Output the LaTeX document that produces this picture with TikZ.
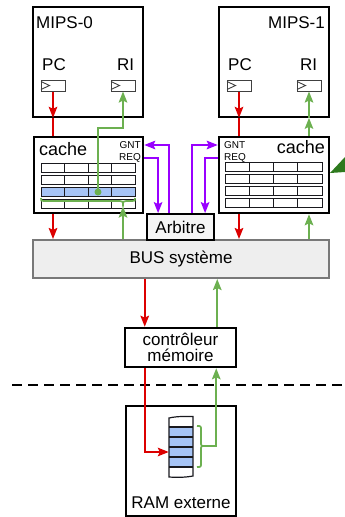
\documentclass[tikz,border=0pt]{standalone}
\usepackage{fontspec}
\setmainfont{Liberation Sans}
\usetikzlibrary{arrows.meta,calc}
\definecolor{redline}{RGB}{220,0,0}
\definecolor{greenline}{RGB}{108,176,80}
\definecolor{purpleline}{RGB}{153,0,255}
\definecolor{rowblue}{RGB}{166,196,245}
\definecolor{busgray}{RGB}{238,238,238}
\definecolor{busborder}{RGB}{120,120,120}
\definecolor{darkgreen}{RGB}{46,122,30}
\definecolor{cellline}{RGB}{25,25,30}

\begin{document}
\begin{tikzpicture}[x=1pt,y=-1pt,
  txt/.style={font=\fontsize{17}{19}\selectfont, inner sep=0pt},
  small/.style={font=\fontsize{10}{11}\selectfont, inner sep=0pt},
  box/.style={draw, inner sep=0pt, line width=#1},
  reg/.style={draw=black!75, line width=1pt, fill=white, minimum width=24pt, minimum height=11pt, inner sep=0pt},
  arr/.style={line width=2pt, -{Stealth[length=11pt,width=8.5pt,inset=2pt]}},
  wire/.style={line width=2pt},
  cell/.style={draw=cellline, line width=0.95pt}]

\useasboundingbox (0,0) rectangle (345,517);

% processors
\node[box=1.7pt, minimum width=110pt, minimum height=110pt] (mips0) at (88,62) {};
\node[box=1.7pt, minimum width=110pt, minimum height=110pt] (mips1) at (274,62) {};
\node[txt, anchor=base west] (lmips0) at (36,28) {MIPS-0};
\node[txt, anchor=base east] (lmips1) at (325,28) {MIPS-1};
\node[txt, anchor=base west] (lpc0) at (42,70) {PC};
\node[txt, anchor=base west] (lri0) at (117,70) {RI};
\node[txt, anchor=base west] (lpc1) at (228,70) {PC};
\node[txt, anchor=base west] (lri1) at (300,70) {RI};

% registers with clock mark
\node[reg] (pc0) at (53,85.5) {};
\node[reg] (ri0) at (123,85.5) {};
\node[reg] (pc1) at (239,85.5) {};
\node[reg] (ri1) at (309,85.5) {};
\foreach \r in {pc0,ri0,pc1,ri1}
  \draw[black!75, line width=0.9pt] ([xshift=0.5pt,yshift=4pt]\r.west) -- ([xshift=9pt]\r.west) -- ([xshift=0.5pt,yshift=-4pt]\r.west);

% system bus and arbiter
\node[draw=busborder, fill=busgray, line width=2pt, minimum width=296pt, minimum height=38pt, txt] (bus) at (181,259) {BUS système};
\node[box=1.8pt, fill=black!4, minimum width=67pt, minimum height=26pt, txt] (arb) at (180.5,227) {Arbitre};

% caches
\node[box=2.5pt, fill=white, minimum width=109pt, minimum height=76pt] (cache0) at (88.5,175) {};
\node[box=2.5pt, fill=white, minimum width=110pt, minimum height=76pt] (cache1) at (274,175) {};
\node[txt, font=\fontsize{18}{20}\selectfont, anchor=base west] (lc0) at (39,155) {cache};
\node[txt, font=\fontsize{18}{20}\selectfont, anchor=base east] (lc1) at (325,153) {cache};
\node[small, anchor=base east] (gnt0) at (141,148) {GNT};
\node[small, anchor=base east] (req0) at (141,160) {REQ};
\node[small, anchor=base west] (gnt1) at (224,148) {GNT};
\node[small, anchor=base west] (req1) at (224,160) {REQ};

\fill[rowblue] (41,187) rectangle (135,197);
\foreach \yt in {163,175,187,199}
  \foreach \xl in {41,64.5,88,111.5}
    \draw[cell] (\xl,\yt) rectangle ++(23.5,9.5);
\foreach \yt in {162,174,186,198}
  \foreach \xl in {225,249.25,273.5,297.75}
    \draw[cell] (\xl,\yt) rectangle ++(24.25,9.5);

% brace over the selected line
\coordinate (brace0) at (123,206.5);
\draw[greenline, line width=1.7pt] (41,198) .. controls (41,201) .. (44,201) -- (120,201)
  .. controls (123,201) .. (brace0) .. controls (123,201) .. (126,201) -- (132,201)
  .. controls (135,201) .. (135,198);
\coordinate (dot0) at (98,192);

% memory controller and external RAM
\node[box=2.5pt, minimum width=111pt, minimum height=39pt, txt, align=center, font=\fontsize{17}{15.5}\selectfont] (ctrl) at (180.5,347.5) {contrôleur\\mémoire};
\draw[line width=2pt, dash pattern=on 10pt off 6pt] (12,385) -- (345,385);
\node[box=2pt, minimum width=110pt, minimum height=110pt] (ram) at (181,461) {};
\node[txt, anchor=base] (lram) at (181,508) {RAM externe};

% memory column
\node[inner sep=0pt, minimum width=24pt, minimum height=59pt] (stack) at (181,447.5) {};
\fill[rowblue] (169,427) rectangle (193,467);
\draw[cellline, line width=1.2pt] (169,418) .. controls (178,416) and (186,416.5) .. (193,416.5)
  -- (193,476) .. controls (185,477.5) and (177,477.5) .. (169,477) -- cycle;
\foreach \yl in {427,437,447,457,467}
  \draw[cellline, line width=1.5pt] (169,\yl) -- (193,\yl);
\coordinate (brace1) at (205,446);
\draw[greenline, line width=1.7pt] (197,426) .. controls (201,426) .. (201,430) -- (201,442)
  .. controls (201,446) .. (brace1) .. controls (201,446) .. (201,450) -- (201,463)
  .. controls (201,467) .. (197,467);

% read requests (red)
\draw[redline, arr] (pc0.south) -- (pc0.south |- mips0.south);
\draw[redline, wire] (pc0.south |- mips0.south) -- (pc0.south |- cache0.north);
\draw[redline, arr] (pc0.south |- cache0.south) -- (pc0.south |- bus.north);
\draw[redline, arr] (pc1.south) -- (pc1.south |- mips1.south);
\draw[redline, wire] (pc1.south |- mips1.south) -- (pc1.south |- cache1.north);
\draw[redline, arr] (pc1.south |- cache1.south) -- (pc1.south |- bus.north);
\draw[redline, arr] ($(bus.south -| ctrl.west)+(21,0)$) -- ($(ctrl.north west)+(21,0)$);
\draw[redline, arr] ($(ctrl.south west)+(21,0)$) |- ($(stack.west)+(0,4.5)$);

% data returns (green)
\draw[greenline, arr] (ri0.south |- bus.north) -- (brace0);
\draw[greenline, arr] (dot0) -- ++(0,-64) -| (ri0.south);
\fill[greenline] (dot0) circle (3.5);
\draw[greenline, arr] (ri1.south |- bus.north) -- (ri1.south |- cache1.south);
\draw[greenline, arr] (ri1.south |- cache1.north) -- (ri1.south |- mips1.south);
\draw[greenline, arr] (ri1.south |- mips1.south) -- (ri1.south);
\draw[greenline, arr] ($(ctrl.north east)+(-20,0)$) -- ($(bus.south -| ctrl.east)+(-20,0)$);
\draw[greenline, arr] (brace1) -| ($(ctrl.south east)+(-21,0)$);

% arbitration signals
\draw[purpleline, arr] ($(arb.north west)+(23,0)$) |- ($(cache0.east)+(0,-30)$);
\draw[purpleline, arr] ($(cache0.east)+(0,-17)$) -| ($(arb.north west)+(12,0)$);
\draw[purpleline, arr] ($(arb.north west)+(46,0)$) |- ($(cache1.west)+(0,-30)$);
\draw[purpleline, arr] ($(cache1.west)+(0,-17)$) -| ($(arb.north west)+(59,0)$);

% pointer mark at the right edge
\fill[darkgreen] (330,173) -- (345,157) -- (345,172) -- cycle;
\end{tikzpicture}
\end{document}
